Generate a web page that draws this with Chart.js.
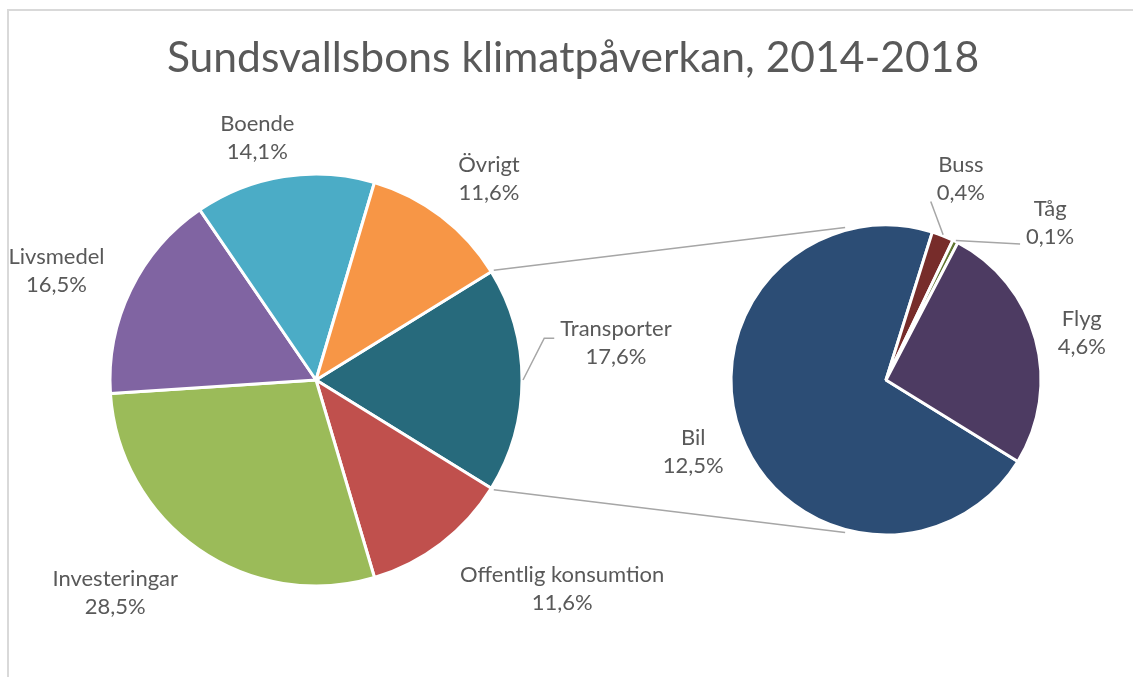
<!DOCTYPE html>
<html><head><meta charset="utf-8">
<script src="https://cdn.jsdelivr.net/npm/chart.js@4.4.1/dist/chart.umd.min.js"></script>
<style>
html,body{margin:0;padding:0;background:#fff;overflow:hidden;}
#wrap{position:relative;width:1133px;height:677px;overflow:hidden;}
#wrap canvas{position:absolute;left:0;top:0;}
#frame{position:absolute;left:7px;top:9px;width:1200px;height:800px;border:2px solid #d9d9d9;box-sizing:border-box;}
</style></head><body>
<div id="wrap">
<div id="frame"></div>
<canvas id="c1" width="1133" height="677"></canvas>
<canvas id="c2" width="1133" height="677"></canvas>
</div>
<script>
// ---- data ----
const titleText = 'Sundsvallsbons klimatpåverkan, 2014-2018';
const mainLabels = ['Transporter', 'Offentlig konsumtion', 'Investeringar', 'Livsmedel', 'Boende', 'Övrigt'];
const mainValues = [17.6, 11.6, 28.5, 16.5, 14.1, 11.6];
const mainColors = ['#276A7C', '#C0504D', '#9BBB59', '#8064A2', '#4BACC6', '#F79646'];
const subLabels = ['Bil', 'Buss', 'Tåg', 'Flyg'];
const subValues = [12.5, 0.4, 0.1, 4.6];
const subColors = ['#2C4D75', '#772C2A', '#5F7530', '#4D3B62'];

const FONT = 'Lato, "Open Sans", sans-serif';
const sum = a => a.reduce((s, v) => s + v, 0);
const halfSplit = mainValues[0] / sum(mainValues) * 180; // half-angle of the split slice
const fmt = v => v.toFixed(1).replace('.', ',') + '%';

// label placement: angle tweak (deg) from slice middle, distance as multiple of radius
const mainPlace = [
  {dAng: -7.0, dist: 1.467, leader: {to: [0, 0.41], elbow: true}},
  {dAng: -12.3, dist: 1.567},
  {dAng: 8.4, dist: 1.422},
  {dAng: -3.1, dist: 1.367},
  {dAng: -4.7, dist: 1.210},
  {dAng: 3.3, dist: 1.288}
];
const subPlace = [
  {dAng: 0, dist: 1.327},
  {dAng: -1.1, dist: 1.386, leader: {to: [0, 0.91]}},
  {dAng: 19.7, dist: 1.465, leader: {to: [0, 0.875]}},
  {dAng: 1.8, dist: 1.299}
];

const pieLabels = {
  id: 'pieLabels',
  afterDatasetsDraw(chart, args, opts) {
    const ctx = chart.ctx;
    const meta = chart.getDatasetMeta(0);
    const vals = chart.data.datasets[0].data;
    ctx.save();
    ctx.font = opts.size + 'px ' + FONT;
    ctx.textAlign = 'center';
    ctx.textBaseline = 'middle';
    const lh = opts.lineHeight;
    meta.data.forEach((arc, i) => {
      const p = opts.place[i];
      const m = (arc.startAngle + arc.endAngle) / 2;
      const a = m + p.dAng * Math.PI / 180;
      const r = arc.outerRadius * p.dist;
      const cx = arc.x + Math.cos(a) * r, cy = arc.y + Math.sin(a) * r;
      const lines = [chart.data.labels[i], fmt(vals[i])];
      const w = Math.max(...lines.map(t => ctx.measureText(t).width)) + 12;
      const h = lh * lines.length;
      ctx.fillStyle = opts.color;
      lines.forEach((t, k) => ctx.fillText(t, cx, cy - h / 2 + lh * (k + 0.5)));
      if (p.leader) {
        const sx = arc.x + Math.cos(m) * (arc.outerRadius + 1);
        const sy = arc.y + Math.sin(m) * (arc.outerRadius + 1);
        const ex = cx - w / 2 + p.leader.to[0] * w;
        const ey = cy - h / 2 + p.leader.to[1] * h;
        ctx.strokeStyle = '#a6a6a6';
        ctx.lineWidth = 1.5;
        ctx.beginPath();
        ctx.moveTo(sx, sy);
        if (p.leader.elbow) ctx.lineTo(ex - 10, ey);
        ctx.lineTo(ex, ey);
        ctx.stroke();
      }
    });
    ctx.restore();
  }
};

const chartTitle = {
  id: 'chartTitle',
  afterDraw(chart, args, opts) {
    const ctx = chart.ctx;
    ctx.save();
    ctx.font = opts.size + 'px ' + FONT;
    ctx.fillStyle = opts.color;
    ctx.textAlign = 'center';
    ctx.textBaseline = 'alphabetic';
    ctx.fillText(opts.text, opts.x, opts.y);
    ctx.restore();
  }
};

const c1 = new Chart(document.getElementById('c1'), {
  type: 'pie',
  data: {
    labels: mainLabels,
    datasets: [{data: mainValues, backgroundColor: mainColors, borderColor: '#ffffff', borderWidth: 3}]
  },
  options: {
    responsive: false, animation: false, events: [],
    rotation: 90 - halfSplit,
    radius: 206,
    layout: {padding: {left: 106, right: 607, top: 170, bottom: 87}},
    plugins: {
      legend: {display: false}, tooltip: {enabled: false}, title: {display: false},
      pieLabels: {place: mainPlace, size: 22, lineHeight: 28, color: '#595959'},
      chartTitle: {text: titleText, size: 42.6, color: '#595959', x: 573, y: 72}
    }
  },
  plugins: [pieLabels, chartTitle]
});

const connectors = {
  id: 'connectors',
  afterDatasetsDraw(chart) {
    const a = c1.getDatasetMeta(0).data[0];
    const b = chart.getDatasetMeta(0).data[0];
    const ctx = chart.ctx;
    const off = 15 * Math.PI / 180;
    const pts = [
      [a.startAngle, -Math.PI / 2 - off],
      [a.endAngle, Math.PI / 2 + off]
    ];
    ctx.save();
    ctx.strokeStyle = '#a6a6a6';
    ctx.lineWidth = 1.5;
    pts.forEach(([sa, ea]) => {
      ctx.beginPath();
      ctx.moveTo(a.x + Math.cos(sa) * (a.outerRadius + 3), a.y + Math.sin(sa) * (a.outerRadius + 3));
      ctx.lineTo(b.x + Math.cos(ea) * (b.outerRadius + 3), b.y + Math.sin(ea) * (b.outerRadius + 3));
      ctx.stroke();
    });
    ctx.restore();
  }
};

const c2 = new Chart(document.getElementById('c2'), {
  type: 'pie',
  data: {
    labels: subLabels,
    datasets: [{data: subValues, backgroundColor: subColors, borderColor: '#ffffff', borderWidth: 3}]
  },
  options: {
    responsive: false, animation: false, events: [],
    rotation: 90 + halfSplit,
    radius: 155,
    layout: {padding: {left: 726, right: 87, top: 220, bottom: 137}},
    plugins: {
      legend: {display: false}, tooltip: {enabled: false}, title: {display: false},
      pieLabels: {place: subPlace, size: 22, lineHeight: 28, color: '#595959'}
    }
  },
  plugins: [connectors, pieLabels]
});
</script>
</body></html>
